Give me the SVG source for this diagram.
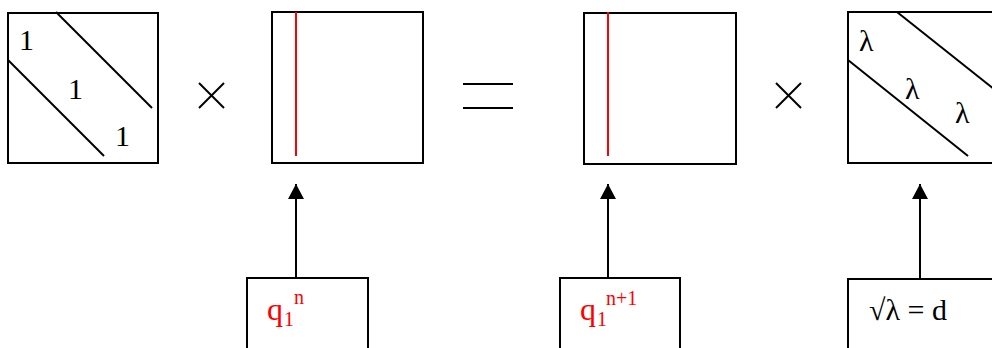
<svg xmlns="http://www.w3.org/2000/svg" width="992" height="348" viewBox="0 0 992 348">
<defs>
<style>
.box{fill:#fff;stroke:#000;stroke-width:2}
.ln{stroke:#000;stroke-width:2;fill:none}
.red{stroke:#f00;stroke-width:2;fill:none}
.t{font-family:"Liberation Serif","Times New Roman",serif;font-size:30px;fill:#000}
.tr{font-family:"Liberation Serif","Times New Roman",serif;font-size:32px;fill:#f00}
.ts{font-family:"Liberation Serif","Times New Roman",serif;font-size:20px;fill:#f00}
</style>
<marker id="ah" markerWidth="16" markerHeight="16" viewBox="0 0 16 16" refX="15" refY="8" orient="auto" markerUnits="userSpaceOnUse">
<path d="M0,0 L15,8 L0,16 Z" fill="#000"/>
</marker>
</defs>
<rect width="992" height="348" fill="#fff"/>
<g id="identity">
<rect class="box" x="8" y="13" width="150" height="150"/>
<line class="ln" x1="56" y1="12" x2="152" y2="108"/>
<line class="ln" x1="8" y1="60" x2="104" y2="156"/>
<text class="t" x="19" y="50">1</text>
<text class="t" x="68" y="99">1</text>
<text class="t" x="115" y="146">1</text>
</g>
<g id="times1">
<line class="ln" x1="199" y1="83" x2="224" y2="108"/>
<line class="ln" x1="224" y1="83" x2="199" y2="108"/>
</g>
<g id="matrixQn">
<rect class="box" x="272" y="12" width="151" height="151"/>
<line class="red" x1="296" y1="12" x2="296" y2="156"/>
</g>
<g id="equals">
<line class="ln" x1="463" y1="84" x2="513" y2="84"/>
<line class="ln" x1="463" y1="108" x2="513" y2="108"/>
</g>
<g id="matrixQn1">
<rect class="box" x="584" y="13" width="152" height="151"/>
<line class="red" x1="608" y1="12" x2="608" y2="156"/>
</g>
<g id="times2">
<line class="ln" x1="776" y1="83" x2="801" y2="108"/>
<line class="ln" x1="801" y1="83" x2="776" y2="108"/>
</g>
<g id="lambdaMatrix">
<rect class="box" x="848" y="12" width="151" height="151"/>
<line class="ln" x1="897" y1="12" x2="999" y2="93"/>
<line class="ln" x1="848" y1="60" x2="968" y2="156"/>
<text class="t" x="859" y="51">λ</text>
<text class="t" x="905" y="99">λ</text>
<text class="t" x="955" y="123">λ</text>
</g>
<g id="labelQn">
<rect class="box" x="247" y="278" width="121" height="100"/>
<text class="tr" x="267" y="320">q</text>
<text class="ts" x="284" y="326">1</text>
<text class="ts" x="294" y="304">n</text>
</g>
<g id="labelQn1">
<rect class="box" x="560" y="278" width="120" height="100"/>
<text class="tr" x="580" y="320">q</text>
<text class="ts" x="597" y="326">1</text>
<text class="ts" x="606" y="305">n+1</text>
</g>
<g id="labelD">
<rect class="box" x="848" y="279" width="151" height="100"/>
<text class="t" x="869" y="320">√λ = d</text>
</g>
<g id="connectors">
<line class="ln" x1="296" y1="278" x2="296" y2="184" marker-end="url(#ah)"/>
<line class="ln" x1="608" y1="278" x2="608" y2="184" marker-end="url(#ah)"/>
<line class="ln" x1="920" y1="279" x2="920" y2="184" marker-end="url(#ah)"/>
</g>
</svg>
